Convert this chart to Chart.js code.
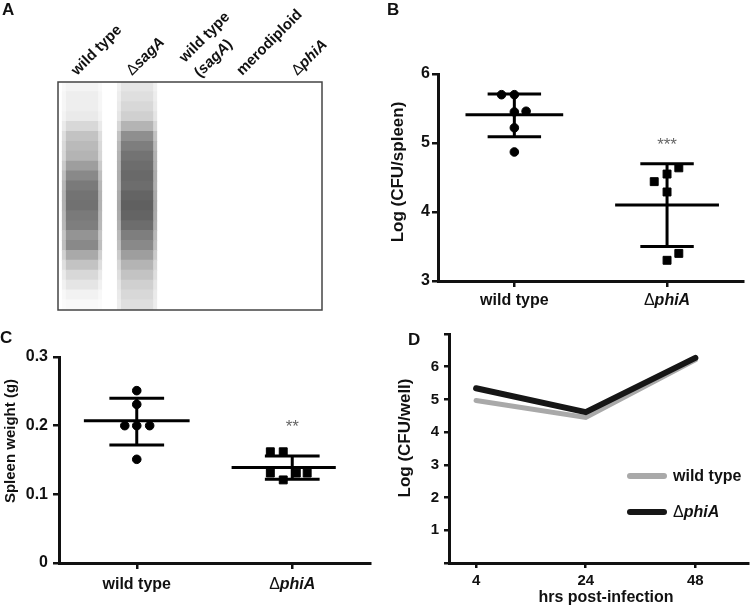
<!DOCTYPE html>
<html>
<head>
<meta charset="utf-8">
<script src="https://cdn.jsdelivr.net/npm/chart.js@4.4.1/dist/chart.umd.min.js"></script>
<style>
    body { margin: 0; background: #fff; width: 750px; height: 605px; position: relative; overflow: hidden; }
    canvas { position: absolute; }
</style>
</head>
<body>
<canvas id="blotChart" width="380" height="320" style="left:0;top:0"></canvas>
<canvas id="cfuChart" width="370" height="315" style="left:380px;top:0"></canvas>
<canvas id="spleenChart" width="380" height="285" style="left:0;top:320px"></canvas>
<canvas id="wellChart" width="370" height="285" style="left:380px;top:320px"></canvas>
<script>
// ---- data ----
const lanes = ["wild type", "ΔsagA", "wild type|(sagA)", "merodiploid", "ΔphiA"];
// signal intensity down each lane, top to bottom (23 slices)
const laneWildType = [0.05, 0.08, 0.08, 0.10, 0.18, 0.28, 0.32, 0.35, 0.45, 0.55, 0.62, 0.65,
    0.66, 0.62, 0.60, 0.50, 0.55, 0.40, 0.28, 0.18, 0.12, 0.06, 0.03];
const laneSagA = [0.12, 0.15, 0.18, 0.22, 0.35, 0.52, 0.60, 0.65, 0.68, 0.70, 0.68, 0.72,
    0.74, 0.72, 0.68, 0.60, 0.55, 0.45, 0.35, 0.28, 0.22, 0.18, 0.15];
const laneEmpty = new Array(23).fill(0);
const laneSignal = [laneWildType, laneSagA, laneEmpty, laneEmpty, laneEmpty];

const groups = ["wild type", "ΔphiA"];

const cfuWild = [5.70, 5.70, 5.45, 5.46, 5.22, 4.87];
const cfuWildJitter = [-0.084, 0, 0, 0.077, 0, 0];
const cfuPhiA = [4.64, 4.55, 4.44, 4.29, 3.40, 3.30];
const cfuPhiAJitter = [0.077, 0, -0.084, 0, 0.077, 0];
const cfuMean = [5.41, 4.10];
const cfuLow = [5.09, 3.50];
const cfuHigh = [5.71, 4.70];
const cfuTicks = [3, 4, 5, 6];

const spleenWild = [0.251, 0.231, 0.200, 0.200, 0.200, 0.151];
const spleenWildJitter = [0, 0, -0.077, 0, 0.083, 0];
const spleenPhiA = [0.162, 0.162, 0.131, 0.131, 0.131, 0.121];
const spleenPhiAJitter = [-0.141, -0.058, -0.141, 0.026, 0.096, -0.058];
const spleenMean = [0.207, 0.139];
const spleenLow = [0.172, 0.122];
const spleenHigh = [0.240, 0.156];
const spleenTicks = [0, 0.1, 0.2, 0.3];

const hours = ["4", "24", "48"];
const wellWild = [4.97, 4.45, 6.21];
const wellPhiA = [5.34, 4.61, 6.27];
const wellTicks = [0, 1, 2, 3, 4, 5, 6, 7];

// ---- helpers ----
const FAMILY = '"Liberation Sans", Arial, sans-serif';
const font = (size, style) => (style || "bold") + " " + size + "px " + FAMILY;

// split a label into text runs: Δ regular, gene names bold italic
function runs(label, size) {
    if (label.startsWith("Δ")) {
        return [{ t: "Δ", f: font(size, "normal") }, { t: label.slice(1), f: font(size, "italic bold") }];
    }
    if (label.startsWith("(")) {
        return [{ t: "(", f: font(size) }, { t: label.slice(1, -1), f: font(size, "italic bold") }, { t: ")", f: font(size) }];
    }
    return [{ t: label, f: font(size) }];
}

function drawRuns(ctx, parts, x, y, opts) {
    opts = opts || {};
    ctx.save();
    ctx.translate(x, y);
    if (opts.rot) ctx.rotate(opts.rot);
    ctx.fillStyle = opts.color || "#111";
    ctx.textBaseline = opts.baseline || "middle";
    ctx.textAlign = "left";
    let total = 0;
    parts.forEach(p => { ctx.font = p.f; total += ctx.measureText(p.t).width; });
    let cx = opts.align === "center" ? -total / 2 : opts.align === "right" ? -total : 0;
    parts.forEach(p => {
        ctx.font = p.f;
        ctx.fillText(p.t, cx, 0);
        cx += ctx.measureText(p.t).width;
    });
    ctx.restore();
}

const textPlugin = (id, fn) => ({ id: id, afterDraw: chart => fn(chart, chart.ctx) });

function errorBars(means, lows, highs, span, cap) {
    const sets = [];
    means.forEach((m, i) => {
        const segs = [
            [[i - span[i][0], m], [i + span[i][1], m]],
            [[i - cap, highs[i]], [i + cap, highs[i]]],
            [[i - cap, lows[i]], [i + cap, lows[i]]],
            [[i, lows[i]], [i, highs[i]]],
        ];
        segs.forEach(s => sets.push({
            data: s.map(p => ({ x: p[0], y: p[1] })),
            showLine: true,
            borderColor: "#000",
            borderWidth: 3,
            pointRadius: 0,
            order: 5,
        }));
    });
    return sets;
}

function axisOpts(extra) {
    return Object.assign({
        grid: { drawOnChartArea: false, color: "#111", lineWidth: 2.5, tickLength: 6 },
        border: { color: "#111", width: 3 },
    }, extra);
}

const baseOptions = (padding) => ({
    responsive: false,
    animation: false,
    layout: { padding: padding },
    plugins: { legend: { display: false }, tooltip: { enabled: false } },
});

// ---- A: blot ----
// a soft wide halo under a narrower core gives the lanes fuzzy edges
function blotLayer(scale) {
    const bars = [], colors = [];
    laneSignal.forEach((lane, i) => {
        lane.forEach((v, k) => {
            bars.push({ x: i, y: [k, k + 1] });
            const g = Math.round(255 - v * scale * 215);
            colors.push("rgb(" + g + "," + g + "," + g + ")");
        });
    });
    return { bars, colors };
}
const halo = blotLayer(0.55);
const core = blotLayer(1);

new Chart(document.getElementById("blotChart"), {
    type: "bar",
    data: {
        datasets: [
            {
                data: core.bars, backgroundColor: core.colors, borderWidth: 0,
                barThickness: 31, grouped: false, inflateAmount: 0.6, order: 1,
            },
            {
                data: halo.bars, backgroundColor: halo.colors, borderWidth: 0,
                barThickness: 39, grouped: false, inflateAmount: 0.6, order: 2,
            },
        ],
    },
    options: Object.assign(baseOptions({ top: 82, left: 58, right: 58, bottom: 10 }), {
        scales: {
            x: { type: "linear", display: false, offset: false, min: -0.436, max: 4.36 },
            y: { display: false, min: 0, max: 23, reverse: true },
        },
    }),
    plugins: [textPlugin("blotText", (chart, ctx) => {
        const a = chart.chartArea;
        ctx.save();
        ctx.strokeStyle = "#444";
        ctx.lineWidth = 1.5;
        ctx.strokeRect(a.left, a.top, a.right - a.left, a.bottom - a.top);
        ctx.restore();
        drawRuns(ctx, runs("A", 17), 2, 2, { baseline: "top" });
        lanes.forEach((lab, i) => {
            const x = chart.scales.x.getPixelForValue(i) - 5;
            const lines = lab.split("|");
            const rot = -Math.PI / 4;
            if (lines.length === 1) {
                drawRuns(ctx, runs(lines[0], 15), x, 76, { rot: rot, baseline: "alphabetic" });
            } else {
                // two-line label, second line sits below the first
                drawRuns(ctx, runs(lines[0], 15), x - 2, 63, { rot: rot, baseline: "alphabetic" });
                drawRuns(ctx, runs(lines[1], 15), x + 13, 78, { rot: rot, baseline: "alphabetic" });
            }
        });
    })],
});

// ---- B: CFU / spleen ----
new Chart(document.getElementById("cfuChart"), {
    type: "scatter",
    data: {
        datasets: [
            {
                data: cfuWild.map((v, i) => ({ x: 0 + cfuWildJitter[i], y: v })),
                pointStyle: "circle", pointRadius: 4.3, backgroundColor: "#000", borderColor: "#000", order: 1,
            },
            {
                data: cfuPhiA.map((v, i) => ({ x: 1 + cfuPhiAJitter[i], y: v })),
                pointStyle: "rect", pointRadius: 5.6, backgroundColor: "#000", borderColor: "#000", order: 1,
            },
            ...errorBars(cfuMean, cfuLow, cfuHigh, [[0.32, 0.32], [0.34, 0.34]], 0.175),
        ],
    },
    options: Object.assign(baseOptions({ top: 74, right: 2, left: 0, bottom: 0 }), {
        scales: {
            x: axisOpts({
                type: "linear", min: -0.5, max: 1.5,
                afterBuildTicks: s => { s.ticks = groups.map((g, i) => ({ value: i })); },
                afterFit: s => { s.height = 34; },
                ticks: { display: false },
            }),
            y: axisOpts({
                min: 3, max: 6,
                afterBuildTicks: s => { s.ticks = cfuTicks.map(v => ({ value: v })); },
                afterFit: s => { s.width = 58; },
                ticks: { color: "#111", padding: 2, font: { family: FAMILY, size: 16, weight: "bold" } },
            }),
        },
    }),
    plugins: [textPlugin("cfuText", (chart, ctx) => {
        drawRuns(ctx, runs("B", 17), 7, 2, { baseline: "top" });
        groups.forEach((g, i) => {
            drawRuns(ctx, runs(g, 16), chart.scales.x.getPixelForValue(i), 301, { align: "center" });
        });
        drawRuns(ctx, runs("Log (CFU/spleen)", 17), 18, 172, { align: "center", rot: -Math.PI / 2 });
        drawRuns(ctx, [{ t: "***", f: font(17, "normal") }], chart.scales.x.getPixelForValue(1), 145,
            { align: "center", color: "#666" });
    })],
});

// ---- C: spleen weight ----
new Chart(document.getElementById("spleenChart"), {
    type: "scatter",
    data: {
        datasets: [
            {
                data: spleenWild.map((v, i) => ({ x: 0 + spleenWildJitter[i], y: v })),
                pointStyle: "circle", pointRadius: 4.3, backgroundColor: "#000", borderColor: "#000", order: 1,
            },
            {
                data: spleenPhiA.map((v, i) => ({ x: 1 + spleenPhiAJitter[i], y: v })),
                pointStyle: "rect", pointRadius: 5.6, backgroundColor: "#000", borderColor: "#000", order: 1,
            },
            ...errorBars(spleenMean, spleenLow, spleenHigh, [[0.34, 0.34], [0.39, 0.28]], 0.176),
        ],
    },
    options: Object.assign(baseOptions({ top: 37, right: 10, left: 0, bottom: 0 }), {
        scales: {
            x: axisOpts({
                type: "linear", min: -0.5, max: 1.5,
                afterBuildTicks: s => { s.ticks = groups.map((g, i) => ({ value: i })); },
                afterFit: s => { s.height = 42; },
                ticks: { display: false },
            }),
            y: axisOpts({
                min: 0, max: 0.3,
                afterBuildTicks: s => { s.ticks = spleenTicks.map(v => ({ value: v })); },
                afterFit: s => { s.width = 59; },
                ticks: {
                    color: "#111", padding: 5, font: { family: FAMILY, size: 16, weight: "bold" },
                    callback: v => (v === 0 ? "0" : v.toFixed(1)),
                },
            }),
        },
    }),
    plugins: [textPlugin("spleenText", (chart, ctx) => {
        drawRuns(ctx, runs("C", 17), 0, 10, { baseline: "top" });
        groups.forEach((g, i) => {
            drawRuns(ctx, runs(g, 16), chart.scales.x.getPixelForValue(i), 265, { align: "center" });
        });
        drawRuns(ctx, runs("Spleen weight (g)", 15), 11, 121, { align: "center", rot: -Math.PI / 2 });
        drawRuns(ctx, [{ t: "**", f: font(17, "normal") }], chart.scales.x.getPixelForValue(1), 107,
            { align: "center", color: "#666" });
    })],
});

// ---- D: CFU / well over time ----
new Chart(document.getElementById("wellChart"), {
    type: "scatter",
    data: {
        datasets: [
            {
                label: "wild type",
                data: wellWild.map((v, i) => ({ x: i, y: v })),
                showLine: true, borderColor: "#a9a9a9", borderWidth: 5, pointRadius: 0,
                borderCapStyle: "round", order: 2,
            },
            {
                label: "ΔphiA",
                data: wellPhiA.map((v, i) => ({ x: i, y: v })),
                showLine: true, borderColor: "#161616", borderWidth: 6, pointRadius: 0,
                borderCapStyle: "round", order: 1,
            },
        ],
    },
    options: Object.assign(baseOptions({ top: 12, right: 2, left: 0, bottom: 0 }), {
        scales: {
            x: axisOpts({
                type: "linear", min: -0.247, max: 2.48,
                afterBuildTicks: s => { s.ticks = hours.map((h, i) => ({ value: i })); },
                afterFit: s => { s.height = 42; },
                grid: { drawOnChartArea: false, color: "#111", lineWidth: 2.5, tickLength: 5 },
                ticks: {
                    color: "#111", padding: 4, font: { family: FAMILY, size: 15, weight: "bold" },
                    callback: v => hours[v],
                },
            }),
            y: axisOpts({
                min: 0, max: 7,
                afterBuildTicks: s => { s.ticks = wellTicks.map(v => ({ value: v })); },
                afterFit: s => { s.width = 69; },
                grid: { drawOnChartArea: false, color: "#111", lineWidth: 2.5, tickLength: 5 },
                ticks: {
                    color: "#111", padding: 5, font: { family: FAMILY, size: 15, weight: "bold" },
                    callback: v => (v >= 1 && v <= 6 ? String(v) : ""),
                },
            }),
        },
    }),
    plugins: [textPlugin("wellText", (chart, ctx) => {
        drawRuns(ctx, runs("D", 17), 28, 12, { baseline: "top" });
        drawRuns(ctx, runs("hrs post-infection", 16), 226, 278, { align: "center" });
        drawRuns(ctx, runs("Log (CFU/well)", 17), 25, 118, { align: "center", rot: -Math.PI / 2 });
        // legend
        chart.data.datasets.forEach((ds, i) => {
            const y = 156 + i * 36;
            ctx.save();
            ctx.strokeStyle = ds.borderColor;
            ctx.lineWidth = 6;
            ctx.lineCap = "round";
            ctx.beginPath();
            ctx.moveTo(250, y);
            ctx.lineTo(284, y);
            ctx.stroke();
            ctx.restore();
            drawRuns(ctx, runs(ds.label, 16), 293, y + 1);
        });
    })],
});
</script>
</body>
</html>
